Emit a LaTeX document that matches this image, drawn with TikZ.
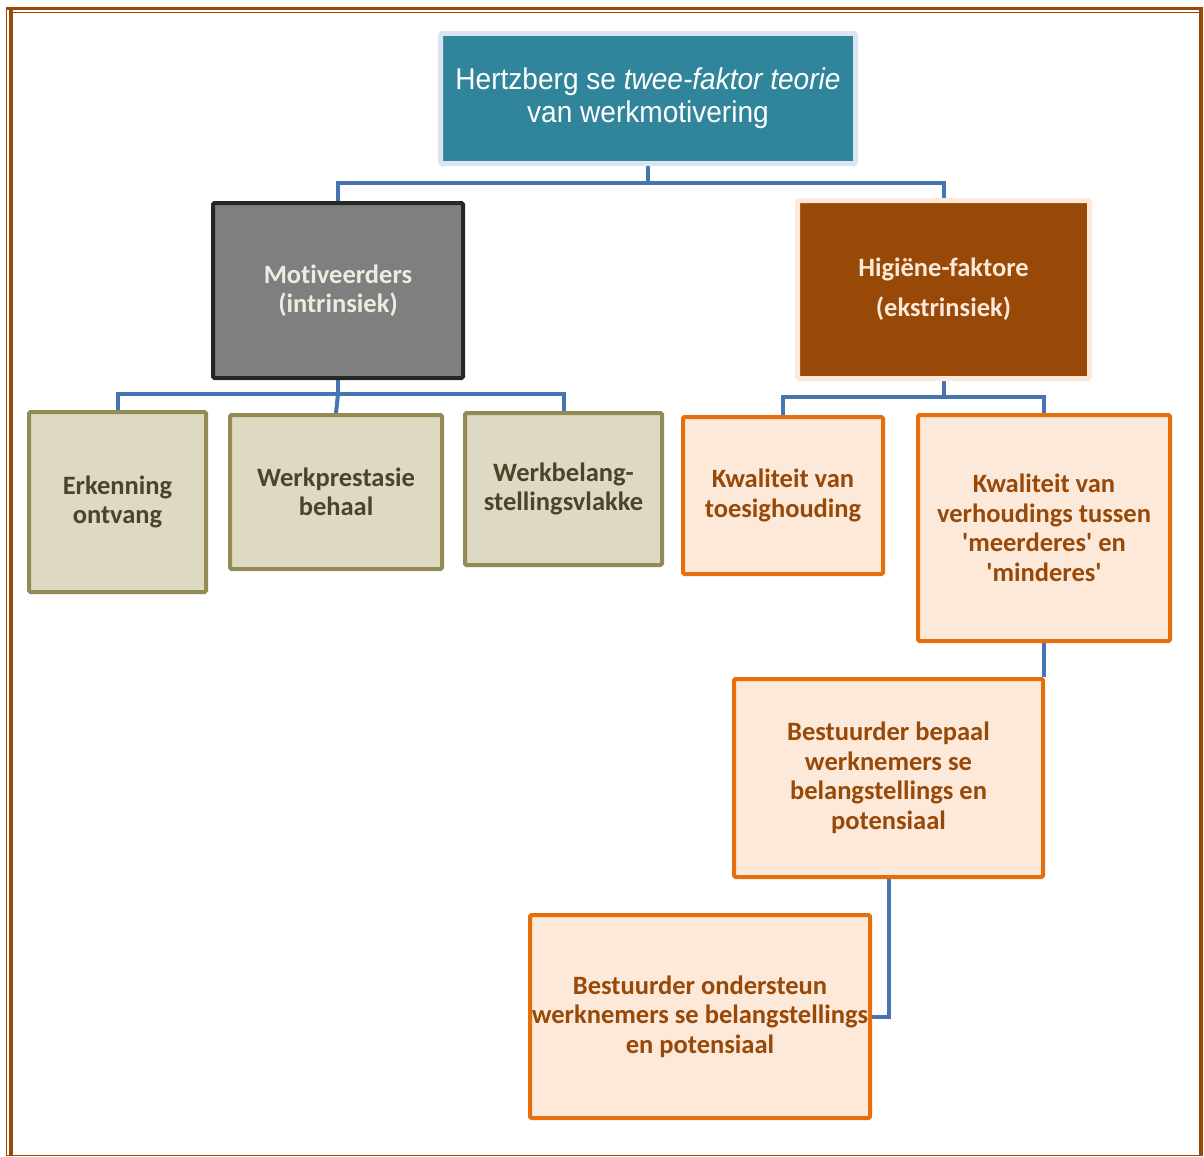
\documentclass[tikz,border=0pt]{standalone}
\usepackage{fontspec}
\setmainfont{Carlito}[Ligatures=NoCommon]
\newfontfamily\narrowfont[FakeStretch=0.935]{Liberation Sans}
\usetikzlibrary{positioning}
\pgfdeclarelayer{background}
\pgfsetlayers{background,main}

\definecolor{teal}{RGB}{49,133,155}
\definecolor{paleblue}{RGB}{219,229,241}
\definecolor{darkedge}{RGB}{38,38,38}
\definecolor{midgray}{RGB}{127,127,127}
\definecolor{ivory}{RGB}{238,236,225}
\definecolor{rust}{RGB}{152,72,7}
\definecolor{peach}{RGB}{253,233,217}
\definecolor{olive}{RGB}{148,138,84}
\definecolor{sand}{RGB}{221,217,195}
\definecolor{darkolive}{RGB}{74,69,42}
\definecolor{orange}{RGB}{230,110,12}
\definecolor{linkblue}{RGB}{70,118,178}

\newcommand{\sq}{\textquotesingle}

\tikzset{
  box/.style={rectangle, inner sep=0pt, align=center, rounded corners=1.5pt,
    font=\bfseries\fontsize{26.5}{29.5}\selectfont},
  titlebox/.style={box, fill=teal, draw=paleblue, line width=5pt, text=white,
    font=\narrowfont\fontsize{30}{33}\selectfont},
  motbox/.style={box, fill=midgray, draw=darkedge, line width=4pt, text=ivory},
  higbox/.style={box, fill=rust, draw=peach, line width=5pt, text=peach,
    font=\bfseries\fontsize{26.5}{40}\selectfont},
  olivebox/.style={box, fill=sand, draw=olive, line width=4pt, text=darkolive},
  orangebox/.style={box, fill=peach, draw=orange, line width=4pt, text=rust},
  link/.style={draw=linkblue, line width=4pt},
  frame/.style={draw=rust}
}

\begin{document}
\begin{tikzpicture}[x=1pt, y=-1pt]
\useasboundingbox (0,0) rectangle (1204,1156);

% outer double frame
\draw[frame, line width=3.5pt] (6,8.5) -- (1203,8.5);
\draw[frame, line width=1.2pt] (11,12.5) -- (1199,12.5);
\draw[frame, line width=1.3pt] (6.5,7) -- (6.5,1156);
\draw[frame, line width=3.5pt] (11,10) -- (11,1156);
\draw[frame, line width=4pt] (1201,7) -- (1201,1156);
\draw[frame, line width=1pt] (6,1155.5) -- (1203,1155.5);

% boxes
\node[titlebox, minimum width=415pt, minimum height=130pt] (top) at (648,98.5)
  {Hertzberg se \textit{twee-faktor teorie}\\van werkmotivering};
\node[motbox, minimum width=250pt, minimum height=175pt] (mot) at (338,290.5)
  {Motiveerders\\(intrinsiek)};
\node[higbox, minimum width=292pt, minimum height=178pt] (hig) at (943.5,289.5)
  {Higiëne-faktore\\(ekstrinsiek)};

\node[olivebox, minimum width=177pt, minimum height=180pt] (erk) at (117.5,502)
  {Erkenning\\ontvang};
\node[olivebox, minimum width=212pt, minimum height=154pt] (wp) at (336,492)
  {Werkprestasie\\behaal};
\node[olivebox, minimum width=197pt, minimum height=152pt] (wb) at (563.5,489)
  {Werkbelang-\\stellingsvlakke};

\node[orangebox, minimum width=200pt, minimum height=157pt] (kt) at (783,495.5)
  {Kwaliteit van\\toesighouding};
\node[orangebox, minimum width=252pt, minimum height=226pt] (kv) at (1044,528)
  {Kwaliteit van\\verhoudings tussen\\\sq meerderes\sq{} en\\\sq minderes\sq};
\node[orangebox, minimum width=309pt, minimum height=198pt] (bb) at (888.5,778)
  {Bestuurder bepaal\\werknemers se\\belangstellings en\\potensiaal};
\node[orangebox, minimum width=340pt, minimum height=203pt] (bo) at (700,1016.5)
  {Bestuurder ondersteun\\werknemers se belangstellings\\en potensiaal};

% connectors
\begin{pgfonlayer}{background}
\coordinate (j0) at (648,183);
\coordinate (j1) at (338,394);
\coordinate (j2) at (944,397);
\draw[link] (top.south) -- (top.south |- j0);
\draw[link] (mot.north) |- (j0) -| (hig.north);
\draw[link] (mot.south) -- (mot.south |- j1);
\draw[link] (erk.north) |- (j1) -| (wb.north);
\draw[link] (j1) -- (wp.north);
\draw[link] (hig.south) -- (hig.south |- j2);
\draw[link] (kt.north) |- (j2) -| (kv.north);
\draw[link] (kv.south) -- (kv.south |- bb.north);
\draw[link] (bb.south) |- (bo.east);
\end{pgfonlayer}
\end{tikzpicture}
\end{document}
